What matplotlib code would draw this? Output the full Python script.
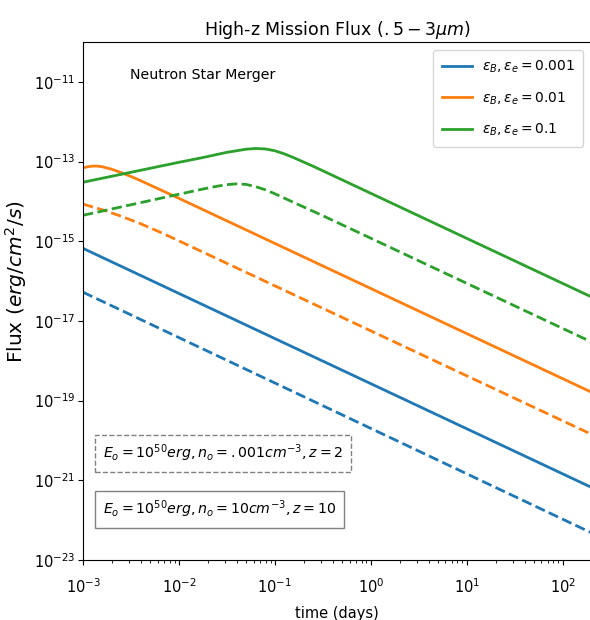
import matplotlib
matplotlib.use("Agg")
import matplotlib.pyplot as plt
from matplotlib.ticker import FixedLocator, LogLocator, NullLocator

# time in days, flux in erg/cm^2/s
t_blue = [1e-3, 200]
blue_solid = [6.61e-16, 6.61e-22]
blue_dashed = [5.25e-17, 4.79e-23]

t_orange_solid = [1e-3, 1.12e-3, 1.26e-3, 1.41e-3, 1.58e-3, 2.0e-3, 2.51e-3, 3.16e-3, 3.98e-3, 1e-2, 200]
orange_solid = [6.92e-14, 7.41e-14, 7.67e-14, 7.67e-14, 7.41e-14, 6.38e-14, 5.25e-14, 4.21e-14, 3.31e-14, 1.19e-14, 1.62e-19]

t_orange_dashed = [1e-3, 1.58e-3, 2.51e-3, 3.98e-3, 6.31e-3, 1e-2, 200]
orange_dashed = [8.51e-15, 6.17e-15, 4.22e-15, 2.75e-15, 1.70e-15, 1.02e-15, 1.42e-20]

t_green_solid = [1e-3, 1e-2, 1.78e-2, 3.16e-2, 3.98e-2, 5.01e-2, 6.31e-2, 7.94e-2, 0.1, 0.126, 0.158, 0.251, 200]
green_solid = [3.02e-14, 9.55e-14, 1.26e-13, 1.70e-13, 1.86e-13, 2.04e-13, 2.12e-13, 2.07e-13, 1.86e-13, 1.55e-13, 1.24e-13, 7.59e-14, 3.98e-17]

t_green_dashed = [1e-3, 1e-2, 1.78e-2, 2.51e-2, 3.16e-2, 3.98e-2, 5.01e-2, 6.31e-2, 7.94e-2, 0.1, 0.158, 0.316, 200]
green_dashed = [4.47e-15, 1.51e-14, 2.04e-14, 2.40e-14, 2.63e-14, 2.75e-14, 2.66e-14, 2.34e-14, 1.95e-14, 1.55e-14, 9.33e-15, 4.37e-15, 2.95e-18]

labels = [r"$\varepsilon_B, \varepsilon_e = 0.001$", r"$\varepsilon_B, \varepsilon_e = 0.01$", r"$\varepsilon_B, \varepsilon_e = 0.1$"]
y_ticks = [1e-23, 1e-21, 1e-19, 1e-17, 1e-15, 1e-13, 1e-11]

fig = plt.figure(figsize=(5.9, 6.2), dpi=100)
ax = fig.add_axes([0.1407, 0.0968, 0.862, 0.8355])

lw = 2.0
ax.loglog(t_blue, blue_solid, color="#1f77b4", lw=lw, label=labels[0])
ax.loglog(t_orange_solid, orange_solid, color="#ff7f0e", lw=lw, label=labels[1])
ax.loglog(t_green_solid, green_solid, color="#2ca02c", lw=lw, label=labels[2])
ax.loglog(t_blue, blue_dashed, color="#1f77b4", lw=lw, ls="--")
ax.loglog(t_orange_dashed, orange_dashed, color="#ff7f0e", lw=lw, ls="--")
ax.loglog(t_green_dashed, green_dashed, color="#2ca02c", lw=lw, ls="--")

ax.set_xlim(1e-3, 2e2)
ax.set_ylim(1e-23, 1e-10)
ax.yaxis.set_major_locator(FixedLocator(y_ticks))
ax.yaxis.set_minor_locator(NullLocator())
ax.xaxis.set_major_locator(LogLocator(base=10, numticks=12))
ax.tick_params(axis="x", which="major", labelsize=10.5, pad=9)
ax.tick_params(axis="y", which="major", labelsize=10.5, pad=2)

ax.set_title(r"High-z Mission Flux $(.5 - 3\mu m)$", fontsize=12.5, pad=5)
ax.set_xlabel("time (days)", fontsize=10.5, labelpad=7)
ax.set_ylabel(r"Flux $(erg/cm^2/s)$", fontsize=14.5)
ax.yaxis.set_label_coords(-0.106, 0.537)

ax.legend(loc="upper right", fontsize=10, handlelength=2.2, handletextpad=0.7,
          labelspacing=1.1, borderpad=0.6, borderaxespad=0.6)

ax.text(0.092, 0.936, "Neutron Star Merger", transform=ax.transAxes, fontsize=10.2, va="center")
ax.text(0.275, 0.206, r"$E_o = 10^{50}erg, n_o = .001cm^{-3}, z = 2$", transform=ax.transAxes,
        fontsize=10.2, ha="center", va="center",
        bbox=dict(boxstyle="square,pad=0.55", fc="white", ec="gray", ls="--"))
ax.text(0.268, 0.0975, r"$E_o = 10^{50}erg, n_o = 10cm^{-3}, z = 10$", transform=ax.transAxes,
        fontsize=10.2, ha="center", va="center",
        bbox=dict(boxstyle="square,pad=0.55", fc="white", ec="gray"))

fig.savefig("out.png", dpi=100)
